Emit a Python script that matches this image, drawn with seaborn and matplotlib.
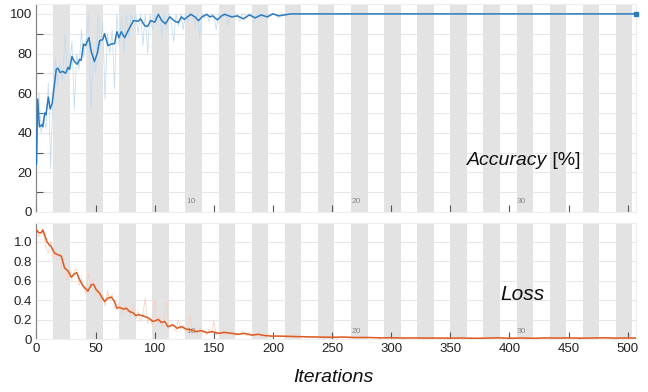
import matplotlib
matplotlib.use('Agg')
import matplotlib.pyplot as plt
import matplotlib.transforms as mtransforms
from matplotlib.ticker import MultipleLocator, FuncFormatter
import seaborn as sns
import pandas as pd

# DATA
iters_per_epoch = 14
n_epochs = 37
last_iter = 507
epoch_labels = [10, 20, 30]
loss_ticks = [0, 0.2, 0.4, 0.6, 0.8, 1.0]

# accuracy, smoothed line
acc_smooth_it = [0, 1, 2.5, 4.5, 5.3, 7, 8, 10, 11.6, 13.3, 16.7, 18, 20, 22.3, 24.6, 26.6, 28, 30, 32,
                 34.5, 36.4, 37.8, 39.8, 41.5, 44.3, 46.3, 49, 51.4, 53.4, 56, 57.6, 60.4, 63.3, 66, 68,
                 69.7, 71.7, 74.6, 77, 82, 86, 88, 91.5, 94, 96.6, 100, 103, 106, 109, 112.7, 117, 120,
                 122.6, 125, 130.5, 134, 137, 140, 144, 146.6, 149, 153, 156.5, 159, 165, 170, 175, 180,
                 185, 190, 195, 200, 205, 210, 215, 507]
acc_smooth = [24, 57, 43, 44, 43, 50, 49, 58, 52, 55, 72, 72.6, 70.4, 71, 70, 73, 72, 78.5, 76,
              74.6, 77, 76.6, 84.8, 84, 88, 81, 76, 80, 86.5, 87, 90, 84, 84.8, 85, 91,
              88, 91, 88, 91, 96.6, 96.3, 97.5, 94, 93.7, 96.6, 95.8, 99.8, 96.6, 95, 98.5, 96.3, 95.6,
              98.5, 97.2, 99.8, 98.5, 96.6, 98.5, 99.8, 98.5, 99, 97, 99, 99.8, 98.5, 99, 97.5, 99.5,
              98, 99.5, 98.5, 100, 99, 99.5, 100, 100]

# accuracy, raw mini-batch values (every 2 iterations, then constant)
acc_raw_it = list(range(0, 216, 2)) + [507]
acc_raw = [22, 60, 40, 48, 42, 65, 22, 62, 78, 64, 75, 66, 90, 70, 74, 86, 52, 80, 72, 92,
           78, 88, 100, 52, 82, 70, 100, 84, 96, 57, 90, 80, 92, 62, 100, 84, 98, 80, 100, 88,
           100, 96, 100, 90, 100, 84, 100, 80, 100, 92, 100, 96, 100, 88, 100, 92, 100, 96, 86, 100,
           94, 100, 92, 100, 96, 100, 100, 94, 100, 88, 100, 98, 100, 96, 100, 100, 92, 100, 98, 100,
           100, 94, 100, 98, 100, 100, 96, 100, 100, 98, 100, 100, 96, 100, 100, 98, 100, 100, 98, 100,
           100, 100, 98, 100, 100, 100, 100, 100, 100]

# loss, smoothed line
loss_smooth_it = [0, 2, 4, 5.3, 6.8, 8.8, 10.4, 12.4, 15.3, 18, 21, 23.7, 26.5, 29.4, 32.2, 34, 36.4, 39,
                  43.5, 46.3, 48.3, 50.6, 53.4, 55.6, 57.6, 60.4, 63.3, 66, 68, 70.3, 73.7, 76, 78.8,
                  81.6, 84, 86, 90, 94, 98.6, 103, 105.6, 108.5, 111, 115.5, 119, 122.6, 127, 131, 135,
                  139.5, 144, 149, 153.6, 159, 165, 170.6, 176, 182, 187.6, 193, 199, 205, 210, 220, 230,
                  240, 250, 260, 270, 280, 290, 300, 310, 320, 330, 340, 350, 360, 370, 380, 390, 400,
                  410, 420, 430, 440, 450, 460, 470, 480, 490, 500, 507]
loss_smooth = [1.12, 1.09, 1.09, 1.12, 1.07, 1.0, 0.97, 0.95, 0.88, 0.866, 0.85, 0.73, 0.70, 0.635, 0.67,
               0.68, 0.61, 0.55, 0.49, 0.556, 0.56, 0.505, 0.47, 0.42, 0.385, 0.42, 0.43, 0.385, 0.316,
               0.325, 0.306, 0.316, 0.28, 0.27, 0.24, 0.25, 0.237, 0.22, 0.18, 0.2, 0.17, 0.18, 0.127,
               0.144, 0.11, 0.127, 0.1, 0.093, 0.076, 0.086, 0.065, 0.076, 0.058, 0.068, 0.058, 0.048,
               0.058, 0.04, 0.048, 0.035, 0.03, 0.03, 0.028, 0.025, 0.022, 0.02, 0.018, 0.02, 0.015,
               0.016, 0.012, 0.013, 0.01, 0.011, 0.009, 0.01, 0.008, 0.01, 0.007, 0.009, 0.012, 0.008,
               0.01, 0.007, 0.011, 0.009, 0.012, 0.008, 0.01, 0.013, 0.009, 0.011, 0.01]

# loss, raw mini-batch values
loss_raw_it = list(range(0, 204, 2)) + list(range(206, 508, 6))
loss_raw = [1.12, 1.05, 1.1, 1.08, 0.95, 0.88, 1.0, 0.82, 0.9, 0.84, 0.88, 0.72, 0.78, 0.6, 0.72, 0.6,
            0.7, 0.72, 0.55, 0.62, 0.52, 0.46, 0.68, 0.55, 0.62, 0.45, 0.5, 0.38, 0.46, 0.34, 0.5, 0.4,
            0.46, 0.32, 0.3, 0.38, 0.26, 0.34, 0.28, 0.3, 0.24, 0.36, 0.2, 0.28, 0.18, 0.26, 0.42, 0.16,
            0.22, 0.14, 0.4, 0.16, 0.22, 0.12, 0.2, 0.38, 0.1, 0.16, 0.12, 0.08, 0.2, 0.1, 0.14, 0.06,
            0.12, 0.24, 0.06, 0.1, 0.05, 0.12, 0.06, 0.08, 0.04, 0.1, 0.06, 0.18, 0.04, 0.07, 0.05, 0.09,
            0.04, 0.06, 0.05, 0.1, 0.03, 0.06, 0.04, 0.08, 0.05, 0.03, 0.07, 0.03, 0.05, 0.04, 0.06, 0.03,
            0.04, 0.03, 0.05, 0.02, 0.04, 0.03,
            0.02, 0.04, 0.015, 0.03, 0.01, 0.025, 0.012, 0.02, 0.008, 0.018, 0.01, 0.02, 0.006, 0.015,
            0.01, 0.02, 0.005, 0.012, 0.008, 0.015, 0.006, 0.012, 0.004, 0.015, 0.008, 0.02, 0.006, 0.01,
            0.005, 0.012, 0.008, 0.018, 0.005, 0.01, 0.007, 0.015, 0.006, 0.012, 0.02, 0.008, 0.01, 0.006,
            0.015, 0.009, 0.012, 0.007, 0.01, 0.008, 0.012, 0.01, 0.008]

acc_s_df = pd.DataFrame({'it': acc_smooth_it, 'val': acc_smooth})
acc_r_df = pd.DataFrame({'it': acc_raw_it, 'val': acc_raw})
loss_s_df = pd.DataFrame({'it': loss_smooth_it, 'val': loss_smooth})
loss_r_df = pd.DataFrame({'it': loss_raw_it, 'val': loss_raw})

# STYLE
sns.set_theme(style='white')
plt.rcParams['font.family'] = ['Liberation Sans', 'DejaVu Sans']

band_col = '#e3e3e3'
grid_col = '#e6e6e6'
tick_col = '#555555'

fig = plt.figure(figsize=(6.48, 3.92), dpi=100)
ax1 = fig.add_axes([0.0563, 0.4592, 0.9252, 0.5306])
ax2 = fig.add_axes([0.0563, 0.1352, 0.9252, 0.2959])

for ax in (ax1, ax2):
    # shaded every other epoch
    for e in range(2, n_epochs + 1, 2):
        ax.axvspan((e - 1) * iters_per_epoch, e * iters_per_epoch, color=band_col, lw=0, zorder=0)
    ax.set_xlim(0, last_iter)
    ax.xaxis.set_major_locator(MultipleLocator(50))
    ax.tick_params(axis='both', direction='in', length=5, width=0.8, colors=tick_col,
                   labelcolor='#222222', labelsize=9.5, pad=3)
    ax.tick_params(axis='y', which='minor', direction='in', length=5, width=0.8, colors=tick_col, left=True)
    ax.tick_params(axis='x', bottom=True)
    ax.yaxis.grid(True, which='both', color=grid_col, lw=0.7, zorder=0.5)
    ax.set_axisbelow(True)
    for side in ('top', 'right', 'bottom'):
        ax.spines[side].set_color('#eeeeee')
        ax.spines[side].set_linewidth(0.8)
    ax.spines['left'].set_color('#888888')
    ax.spines['left'].set_linewidth(0.9)
    trans = mtransforms.blended_transform_factory(ax.transData, ax.transAxes)
    for e in epoch_labels:
        ax.text((e - 1) * iters_per_epoch + 0.5, 0.035, str(e), transform=trans,
                fontsize=6, color='#8a8a8a', ha='left', va='bottom')

# accuracy
sns.lineplot(data=acc_r_df, x='it', y='val', ax=ax1, color='#c2dcf1', lw=0.55,
             estimator=None, sort=False, zorder=2)
sns.lineplot(data=acc_s_df, x='it', y='val', ax=ax1, color='#2b7bbf', lw=1.1,
             estimator=None, sort=False, zorder=3)
ax1.plot(acc_smooth_it[-1], acc_smooth[-1], 's', ms=2.5, color='#2b7bbf', zorder=4, clip_on=False)
ax1.set_ylim(0, 105)
ax1.yaxis.set_major_locator(MultipleLocator(20))
ax1.yaxis.set_minor_locator(MultipleLocator(10))
ax1.set_xticklabels([])
ax1.set_xlabel('')
ax1.set_ylabel('')
t = ax1.text(0.718, 0.226, 'Accuracy', transform=ax1.transAxes, fontsize=14,
             style='italic', ha='left', va='baseline', color='#111111')
ax1.annotate(' [%]', xy=(1, 0), xycoords=t, fontsize=14, ha='left', va='bottom', color='#111111')

# loss
sns.lineplot(data=loss_r_df, x='it', y='val', ax=ax2, color='#f8d0bd', lw=0.55,
             estimator=None, sort=False, zorder=2)
sns.lineplot(data=loss_s_df, x='it', y='val', ax=ax2, color='#dd5a22', lw=1.1,
             estimator=None, sort=False, zorder=3)
ax2.set_ylim(0, 1.19)
ax2.set_yticks(loss_ticks)
ax2.yaxis.set_major_formatter(FuncFormatter(lambda v, p: '0' if abs(v) < 1e-9 else f'{v:.1f}'))
ax2.set_ylabel('')
ax2.set_xlabel('')
ax2.text(0.81, 0.38, 'Loss', transform=ax2.transAxes, fontsize=15, style='italic',
         ha='center', va='center', color='#111111')

fig.text(333 / 648, 0.036, 'Iterations', fontsize=14, style='italic', ha='center', va='center',
         color='#111111')

fig.savefig('out.png', dpi=100)
